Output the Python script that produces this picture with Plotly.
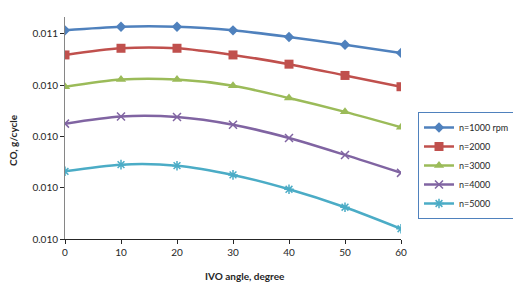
import plotly.graph_objects as go

ivo_angle = [0, 10, 20, 30, 40, 50, 60]
series_names = ["n=1000 rpm", "n=2000", "n=3000", "n=4000", "n=5000"]
co_1000 = [0.010507, 0.010514, 0.010514, 0.010507, 0.010494, 0.010479, 0.010463]
co_2000 = [0.010459, 0.010472, 0.010472, 0.010459, 0.010441, 0.010419, 0.010397]
co_3000 = [0.010397, 0.010411, 0.010411, 0.010399, 0.010375, 0.010348, 0.010318]
co_4000 = [0.010325, 0.010339, 0.010338, 0.010323, 0.010297, 0.010264, 0.010229]
co_5000 = [0.010232, 0.010245, 0.010243, 0.010225, 0.010197, 0.010162, 0.010120]
y_tickvals = [0.0101, 0.0102, 0.0103, 0.0104, 0.0105]
y_ticktext = ["0.010", "0.010", "0.010", "0.010", "0.011"]
x_tickvals = [0, 10, 20, 30, 40, 50, 60]

colors = ["#4F81BD", "#C0504D", "#9BBB59", "#8064A2", "#4BACC6"]
markers = [
    dict(symbol="diamond", size=8),
    dict(symbol="square", size=9),
    dict(symbol="triangle-up", size=9),
    dict(symbol="x-thin-open", size=8),
    dict(symbol="asterisk-open", size=8),
]
all_series = [co_1000, co_2000, co_3000, co_4000, co_5000]

# page body has an 8px margin; shift everything by -8
OFF = 8
W, H = 521 - OFF, 287 - OFF
L, R_, T, B = 65 - OFF, 401 - OFF, 17 - OFF, 239 - OFF

font = "Lato, Liberation Sans, sans-serif"
fig = go.Figure()
for name, vals, c, m in zip(series_names, all_series, colors, markers):
    mk = dict(color=c, **m)
    mk["line"] = dict(color=c, width=1.5 if "open" in m["symbol"] else 0)
    fig.add_trace(go.Scatter(
        x=ivo_angle, y=vals, name=name, mode="lines+markers",
        line=dict(color=c, width=2.5, shape="spline", smoothing=0.8),
        marker=mk,
    ))

pw, ph = R_ - L, B - T
fig.update_layout(
    width=W, height=H,
    margin=dict(l=L, r=W - R_, t=T, b=H - B, autoexpand=False),
    paper_bgcolor="white", plot_bgcolor="white",
    font=dict(family=font, size=10, color="#262626"),
    showlegend=True,
    legend=dict(
        xref="container", yref="container",
        x=(418 - OFF) / W, y=1 - (112 - OFF) / H, xanchor="left", yanchor="top",
        bordercolor="#4F81BD", borderwidth=1, bgcolor="white",
        font=dict(family=font, size=9, color="#262626"),
        itemwidth=30, tracegroupgap=0,
    ),
    xaxis=dict(
        range=[0, 60], tickvals=x_tickvals, ticks="outside", ticklen=4,
        tickcolor="#262626", showline=True, linecolor="#262626", linewidth=1,
        showgrid=False, zeroline=False, tickfont=dict(size=10),
    ),
    yaxis=dict(
        range=[0.0101, 0.010533], tickvals=y_tickvals, ticktext=y_ticktext,
        ticks="outside", ticklen=4, tickcolor="#262626",
        showline=True, linecolor="#868686", linewidth=1,
        showgrid=False, zeroline=False, tickfont=dict(size=10),
    ),
    annotations=[
        dict(text="<b>IVO angle, degree</b>", xref="paper", yref="paper",
             x=(245 - 65) / pw, y=-37 / ph, xanchor="center", yanchor="middle",
             showarrow=False, font=dict(size=10)),
        dict(text="<b>CO, g/cycle</b>", xref="paper", yref="paper",
             x=-52 / pw, y=(239 - 140) / ph, xanchor="center", yanchor="middle",
             textangle=-90, showarrow=False, font=dict(size=10)),
    ],
)

fig.write_html("out.html")
